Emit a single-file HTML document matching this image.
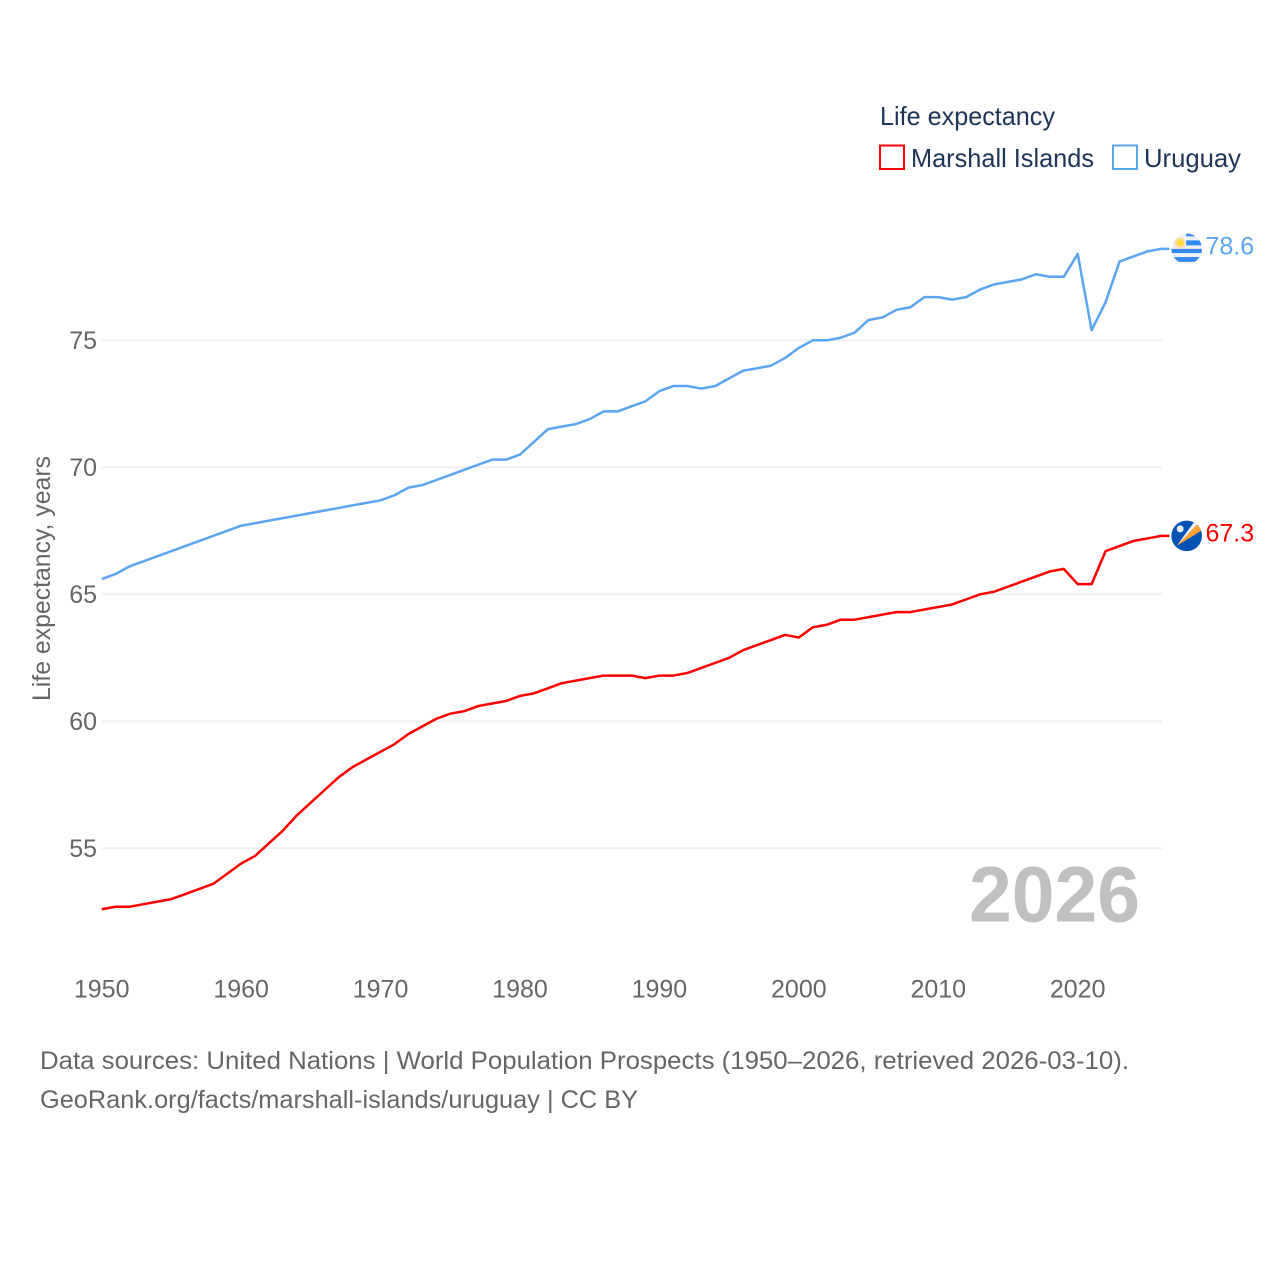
<!DOCTYPE html>
<html lang="en">
<head>
<meta charset="utf-8">
<title>Life expectancy: Marshall Islands and Uruguay</title>
<style>
html,body{margin:0;padding:0;background:#fff;width:1280px;height:1280px;overflow:hidden}
svg{display:block;font-family:"Liberation Sans",sans-serif}
</style>
</head>
<body>
<svg id="chart" width="1280" height="1280" viewBox="0 0 1280 1280" xmlns="http://www.w3.org/2000/svg">
  <defs>
    <clipPath id="flag-clip"><circle cx="0" cy="0" r="15.300"/></clipPath>
  </defs>
  <g id="grid"></g>
  <g id="ylabels"></g>
  <g id="xlabels"></g>
  <g id="lines"></g>
  <text transform="translate(50,701) rotate(-90)" font-size="25" fill="#666" textLength="245" lengthAdjust="spacingAndGlyphs">Life expectancy, years</text>
  <text x="969" y="921.500" font-size="79" font-weight="700" fill="#c0c0c0" textLength="171" lengthAdjust="spacingAndGlyphs">2026</text>

  <g id="legend">
    <text x="880" y="125" font-size="26" fill="#1d3557" textLength="175" lengthAdjust="spacingAndGlyphs">Life expectancy</text>
    <g>
      <rect x="880" y="145.500" width="24" height="23.500" fill="none" stroke="#ff0000" stroke-width="2"/>
      <text x="911" y="167" font-size="26" fill="#1d3557" textLength="183" lengthAdjust="spacingAndGlyphs">Marshall Islands</text>
    </g>
    <g>
      <rect x="1113" y="145.500" width="24" height="23.500" fill="none" stroke="#5ba4f0" stroke-width="2"/>
      <text x="1144" y="167" font-size="26" fill="#1d3557" textLength="97" lengthAdjust="spacingAndGlyphs">Uruguay</text>
    </g>
  </g>

  <g id="flag-uruguay">
    <g clip-path="url(#flag-clip)">
      <rect x="-16" y="-16" width="32" height="32" fill="#f1f1f1"/>
      <rect x="-0.500" y="-16" width="16" height="3.500" fill="#338af3"/>
      <rect x="-0.500" y="-8.500" width="16" height="5" fill="#338af3"/>
      <rect x="-16" y="0" width="32" height="4.200" fill="#338af3"/>
      <rect x="-16" y="8.200" width="32" height="4.800" fill="#338af3"/>
      <circle cx="-6.500" cy="-6" r="5.500" fill="#f7dfb8"/>
      <circle cx="-6.500" cy="-6" r="3.800" fill="#ffda44"/>
    </g>
  </g>
  <g id="flag-marshall">
    <g clip-path="url(#flag-clip)">
      <rect x="-16" y="-16" width="32" height="32" fill="#0052b4"/>
      <polygon points="-10,10 11,-12 16,-6" fill="#ffa233"/>
      <polygon points="-10,10 7.500,-14 11,-12" fill="#f2f2f2"/>
      <circle cx="-6.500" cy="-7" r="3.500" fill="#e6ecf5"/>
    </g>
  </g>
  <g id="values"></g>

  <g>
    <text x="40" y="1069" font-size="25" fill="#666" textLength="1089" lengthAdjust="spacingAndGlyphs">Data sources: United Nations | World Population Prospects (1950–2026, retrieved 2026-03-10).</text>
    <text x="40" y="1108" font-size="25" fill="#666" textLength="598" lengthAdjust="spacingAndGlyphs">GeoRank.org/facts/marshall-islands/uruguay | CC BY</text>
  </g>
</svg>
<script>
const firstYear = 1950;
const yTickValues = [55, 60, 65, 70, 75];
const xTickValues = [1950, 1960, 1970, 1980, 1990, 2000, 2010, 2020];
const marshallIslands = [
  52.6,52.7,52.7,52.8,52.9,53.0,53.2,53.4,53.6,54.0,
  54.4,54.7,55.2,55.7,56.3,56.8,57.3,57.8,58.2,58.5,
  58.8,59.1,59.5,59.8,60.1,60.3,60.4,60.6,60.7,60.8,
  61.0,61.1,61.3,61.5,61.6,61.7,61.8,61.8,61.8,61.7,
  61.8,61.8,61.9,62.1,62.3,62.5,62.8,63.0,63.2,63.4,
  63.3,63.7,63.8,64.0,64.0,64.1,64.2,64.3,64.3,64.4,
  64.5,64.6,64.8,65.0,65.1,65.3,65.5,65.7,65.9,66.0,
  65.4,65.4,66.7,66.9,67.1,67.2,67.3
];
const uruguay = [
  65.6,65.8,66.1,66.3,66.5,66.7,66.9,67.1,67.3,67.5,
  67.7,67.8,67.9,68.0,68.1,68.2,68.3,68.4,68.5,68.6,
  68.7,68.9,69.2,69.3,69.5,69.7,69.9,70.1,70.3,70.3,
  70.5,71.0,71.5,71.6,71.7,71.9,72.2,72.2,72.4,72.6,
  73.0,73.2,73.2,73.1,73.2,73.5,73.8,73.9,74.0,74.3,
  74.7,75.0,75.0,75.1,75.3,75.8,75.9,76.2,76.3,76.7,
  76.7,76.6,76.7,77.0,77.2,77.3,77.4,77.6,77.5,77.5,
  78.4,75.4,76.5,78.1,78.3,78.5,78.6
];

const NS = 'http://www.w3.org/2000/svg';
function xScale(year) { return 101.7 + (year - 1950) * (1077.7 - 101.7) / 70; }
function yScale(v) { return 848.3 - (v - 55) * (848.3 - 340.3) / 20; }
function make(tag, attrs, parent) {
  const el = document.createElementNS(NS, tag);
  for (const k in attrs) el.setAttribute(k, attrs[k]);
  parent.appendChild(el);
  return el;
}
const gridG = document.getElementById('grid');
const yG = document.getElementById('ylabels');
const xG = document.getElementById('xlabels');
const linesG = document.getElementById('lines');
const valuesG = document.getElementById('values');
const lastX = xScale(firstYear + uruguay.length - 1);

yTickValues.forEach(function (v) {
  const line = make('line', {x1: 102, x2: 1162, y1: yScale(v), y2: yScale(v), stroke: '#f0f0f0', 'stroke-width': 2}, gridG);
  
  
  const t = make('text', {x: 97, y: yScale(v) + 8.700, 'text-anchor': 'end', 'font-size': 25, fill: '#666'}, yG);
  
  
  t.textContent = v;
});

xTickValues.forEach(function (y) {
  const t = make('text', {x: xScale(y), y: 997.500, 'text-anchor': 'middle', 'font-size': 25, fill: '#666'}, xG);
  
  
  t.textContent = y;
});

function drawSeries(values, color, slug, flagId) {
  const pts = values.map(function (v, i) {
    return xScale(firstYear + i).toFixed(2) + ',' + yScale(v).toFixed(2);
  });
  const endY = yScale(values[values.length - 1]);
  pts.push((lastX + 8).toFixed(2) + ',' + endY.toFixed(2));
  const line = make('polyline', {points: pts.join(' '), fill: 'none', stroke: color, 'stroke-width': 2.500, 'stroke-linejoin': 'round'}, linesG);
  
  
  const flag = document.getElementById(flagId);
  flag.setAttribute('transform', 'translate(1186.700,' + endY.toFixed(2) + ')');
  const label = make('text', {x: 1205.500, y: endY + 5.700, 'font-size': 25, fill: color}, valuesG);
  
  
  label.textContent = values[values.length - 1].toFixed(1);
}
drawSeries(marshallIslands, '#ff0000', 'marshall-islands', 'flag-marshall');
drawSeries(uruguay, '#5ba4f0', 'uruguay', 'flag-uruguay');
</script>
</body>
</html>
